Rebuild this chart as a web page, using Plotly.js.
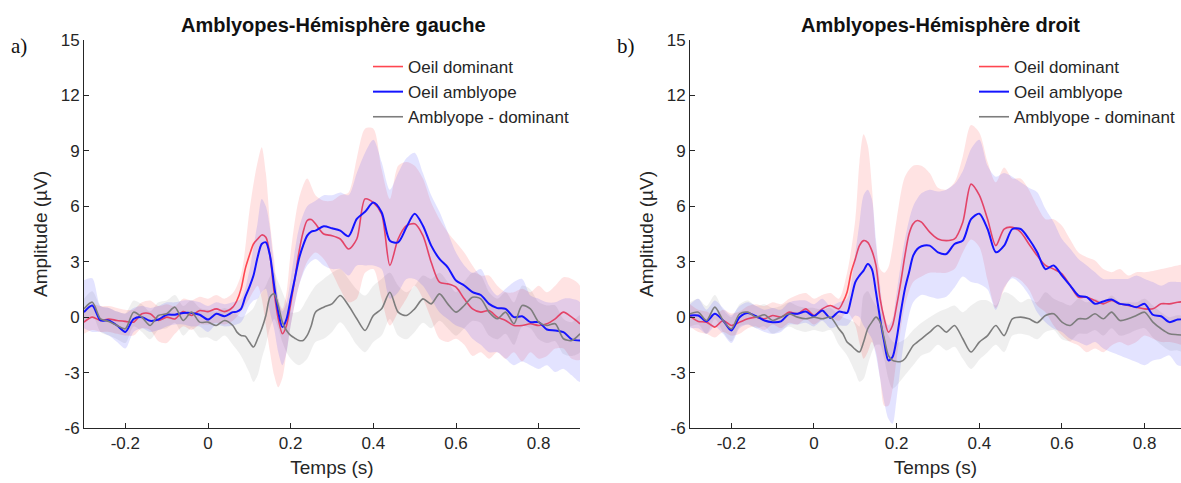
<!DOCTYPE html>
<html><head><meta charset="utf-8">
<script src="https://cdn.plot.ly/plotly-3.0.1.min.js"></script>
<style>html,body{margin:0;padding:0;background:#fff}#chart{width:1181px;height:483px}</style>
</head><body><div id="chart"></div>
<script>
// Time axis (s) for mean curves
const tMean = [-0.30,-0.28,-0.26,-0.24,-0.22,-0.20,-0.18,-0.16,-0.14,-0.12,-0.10,-0.08,-0.06,-0.04,-0.02,0.00,0.02,0.04,0.06,
  0.07,0.08,0.09,0.10,0.11,0.12,0.13,0.14,0.15,0.16,0.17,0.18,0.19,0.20,0.21,0.22,0.23,0.24,0.25,0.26,
  0.28,0.30,0.32,0.34,0.36,0.38,0.40,0.42,0.44,0.46,0.48,0.50,0.52,0.54,0.56,0.58,0.60,0.62,0.64,0.66,0.68,0.70,0.72,0.74,0.76,0.78,0.80,0.82,0.84,0.86,0.88,0.90];
// Time axis (s) for shaded bands
const tBand = [-0.30,-0.28,-0.26,-0.24,-0.22,-0.20,-0.18,-0.16,-0.14,-0.12,-0.10,-0.08,-0.06,-0.04,-0.02,0.00,0.02,0.04,0.06,
  0.08,0.10,0.11,0.12,0.13,0.14,0.15,0.16,0.17,0.18,0.19,0.20,0.22,0.24,0.26,
  0.28,0.30,0.32,0.34,0.36,0.38,0.40,0.42,0.44,0.46,0.48,0.50,0.52,0.54,0.56,0.58,0.60,0.62,0.64,0.66,0.68,0.70,0.72,0.74,0.76,0.78,0.80,0.82,0.84,0.86,0.88,0.90];

// ---- Left hemisphere (a) ----
const domLeft = [-0.27,0.0,-0.18,-0.1,-0.18,-0.23,-0.27,0.18,0.18,-0.18,0.0,-0.1,0.3,0.09,0.36,0.3,0.45,0.3,0.54,
  0.9,1.53,2.6,3.33,3.96,4.23,4.45,4.32,3.33,1.35,-0.09,-0.9,-0.45,0.72,2.07,3.51,4.59,5.23,5.28,5.05,
  4.5,4.41,4.23,3.69,4.23,6.4,6.2,5.59,2.8,4.23,4.95,5.05,4.41,2.97,1.89,1.8,1.62,0.99,0.45,0.27,0.36,0.0,-0.18,-0.45,-0.45,-0.36,-0.45,-0.36,-0.09,0.27,0.0,-0.36];
const amblLeft = [0.27,0.63,-0.18,-0.18,-0.45,-0.8,-0.1,0.0,-0.2,-0.13,0.13,0.13,0.23,0.23,0.13,-0.13,0.18,0.05,0.27,
  0.3,0.45,1.08,1.62,2.25,3.24,3.96,4.05,3.33,1.71,0.27,-0.54,-0.1,1.0,2.07,3.15,3.87,4.41,4.63,4.68,
  4.92,4.81,4.68,4.38,5.32,5.7,6.2,5.68,4.14,4.05,4.86,5.59,4.95,3.87,3.15,2.7,1.98,1.71,1.35,1.2,0.72,0.49,0.45,0.0,0.05,-0.27,-0.27,-0.67,-0.72,-0.81,-1.2,-1.26];
const diffLeft = [0.45,0.81,-0.09,-0.23,-0.45,-0.63,0.27,0.0,-0.45,0.09,0.18,0.54,-0.18,0.27,-0.27,-0.27,-0.45,-0.18,-0.45,
  -0.81,-0.99,-1.03,-1.35,-1.62,-1.17,-0.63,0.09,1.08,1.26,0.63,-0.27,-0.72,-0.99,-1.14,-1.26,-1.26,-0.99,-0.45,0.27,
  0.54,0.72,1.17,0.63,-0.09,-0.72,0.09,0.45,1.35,0.27,0.09,0.45,0.99,0.72,1.26,0.72,0.27,0.63,1.08,0.99,0.27,-0.09,0.27,-0.36,0.63,0.45,-0.27,-0.45,-0.36,-1.17,-1.26,-0.9];
const domLeftHi = [0.5,0.7,0.6,0.6,0.5,0.4,0.4,0.8,0.9,0.6,0.7,0.6,1.0,0.9,1.1,1.0,1.2,1.0,1.3,
  2.3,5.7,7.2,8.4,9.2,7.8,5.1,3.15,1.0,0.45,1.35,3.5,6.4,7.5,6.6,
  6.3,6.3,6.6,6.75,8.6,10.2,10.2,8.0,6.4,8.2,8.4,8.2,7.5,6.2,5.3,4.6,4.05,3.5,2.8,2.25,2.25,1.7,1.35,1.35,1.53,1.35,1.7,1.35,1.7,2.16,2.07,1.7];
const domLeftLo = [-0.9,-0.7,-0.8,-0.8,-0.9,-1.0,-1.0,-0.6,-0.7,-1.3,-1.4,-0.9,-0.5,-0.7,-0.4,-0.4,-0.3,-0.4,-0.2,
  0.3,1.0,1.4,1.7,1.0,-0.45,-1.9,-3.15,-3.8,-3.3,-1.9,-0.45,1.7,3.0,3.5,
  3.15,2.4,1.5,0.8,1.0,2.4,2.6,1.0,-0.45,0.27,1.0,1.7,1.0,-0.1,-1.17,-1.35,-1.17,-1.5,-2.1,-1.9,-2.25,-1.9,-2.25,-1.9,-2.4,-1.9,-2.25,-2.1,-1.7,-1.7,-2.25,-2.3];
const amblLeftHi = [2.0,2.1,0.6,0.5,0.3,0.2,0.5,0.6,0.5,0.6,0.8,0.8,0.9,0.9,0.8,0.6,0.8,0.7,0.8,
  1.0,2.5,3.8,5.1,6.4,6.0,4.8,2.6,1.0,0.3,0.8,2.07,4.8,6.0,6.3,
  6.6,6.6,6.75,6.6,7.8,8.9,9.6,8.4,6.9,7.8,8.6,8.9,7.8,6.6,5.7,4.6,3.5,2.8,2.4,2.6,1.7,1.17,1.53,1.9,2.07,1.17,1.0,0.8,0.8,1.0,1.0,0.8];
const amblLeftLo = [-0.6,-0.8,-0.8,-1.0,-1.35,-1.7,-0.8,-0.6,-0.8,-0.7,-0.5,-0.4,-0.4,-0.5,-0.5,-0.8,-0.4,-0.5,-0.45,
  -0.27,0.63,0.9,1.0,1.35,1.53,0.27,-0.63,-1.9,-2.6,-1.9,-0.45,1.7,2.8,3.15,
  2.8,2.6,2.6,2.25,2.8,2.8,2.8,2.6,1.0,1.35,2.07,2.07,1.7,1.0,0.27,-0.1,-0.45,-0.63,-1.17,-1.5,-1.9,-1.9,-2.25,-2.6,-2.4,-2.6,-2.8,-2.6,-2.97,-2.8,-3.15,-3.5];
const diffLeftHi = [1.0,1.4,0.6,0.5,0.3,0.2,0.9,0.7,0.3,0.8,0.9,1.2,0.6,0.9,0.5,0.4,0.3,0.5,0.3,
  0.0,0.27,0.5,1.0,1.3,1.7,2.2,2.4,1.9,1.35,0.8,0.27,0.3,1.0,1.7,
  2.07,2.4,2.6,2.07,1.5,1.17,1.7,2.07,2.4,1.7,1.35,1.7,2.25,2.07,2.4,1.9,1.35,1.9,2.4,2.25,1.35,1.0,1.35,0.8,1.7,1.5,0.8,0.63,0.63,-0.1,-0.27,0.1];
const diffLeftLo = [-0.3,0.1,-0.8,-1.0,-1.2,-1.4,-0.5,-0.8,-1.2,-0.7,-0.6,-0.3,-1.0,-0.6,-1.1,-1.1,-1.3,-1.0,-1.5,
  -2.1,-3.0,-3.5,-3.15,-2.25,-1.5,-0.6,-0.1,-0.6,-1.35,-1.9,-2.25,-2.6,-2.25,-1.35,
  -1.17,-0.8,-0.27,-0.8,-1.5,-1.9,-1.35,-1.0,-0.1,-1.0,-1.2,-0.8,-0.3,-0.6,-0.2,-0.6,-1.0,-0.6,-0.2,-0.3,-1.0,-1.2,-0.9,-1.5,-0.5,-0.6,-1.2,-1.4,-1.3,-2.0,-2.1,-1.9];

// ---- Right hemisphere (b) ----
const domRight = [0.05,-0.23,-0.27,-0.54,-0.18,-0.45,-0.27,-0.09,0.0,-0.09,0.09,0.0,0.27,0.18,0.45,0.09,0.45,0.63,0.45,
  0.81,1.35,2.43,3.15,3.87,4.14,4.05,3.6,2.8,1.0,-0.09,-0.81,-0.45,0.63,1.9,3.33,4.5,5.05,5.23,5.14,
  4.6,4.23,4.14,4.23,5.14,7.2,6.6,5.3,3.87,4.77,4.86,4.6,3.96,3.33,2.8,2.6,2.34,1.71,1.08,1.08,0.9,0.72,0.9,0.72,0.63,0.54,0.45,0.45,0.72,0.72,0.81,0.85];
const amblRight = [0.09,0.09,-0.23,0.18,-0.18,-0.72,0.0,0.23,0.05,-0.18,-0.27,-0.23,0.18,0.18,0.3,0.05,0.36,-0.05,0.3,
  0.27,0.23,1.0,1.9,2.25,2.52,2.88,2.6,1.35,-0.09,-1.35,-2.34,-2.16,-1.17,0.27,1.53,2.43,3.33,3.69,3.84,
  3.87,3.51,3.42,3.96,4.14,5.3,5.6,4.77,3.51,3.87,4.77,4.77,4.23,3.51,2.6,2.8,2.25,1.71,1.17,1.08,0.72,0.85,0.95,0.72,0.67,0.54,0.72,0.13,0.05,-0.27,-0.13,-0.13];
const diffRight = [0.18,0.27,-0.18,0.54,-0.18,-0.63,0.18,0.27,0.0,0.13,-0.18,0.0,0.18,0.0,-0.09,0.0,-0.09,0.0,-0.63,
  -0.9,-1.35,-1.53,-1.75,-1.89,-1.35,-0.63,-0.27,0.0,-0.27,-1.17,-2.07,-2.34,-2.4,-2.4,-2.25,-1.89,-1.53,-1.35,-1.17,
  -0.81,-0.45,-0.81,-0.45,-1.17,-1.89,-1.35,-1.0,-0.45,-1.0,-0.09,0.0,-0.09,-0.3,0.09,0.18,-0.27,-0.45,-0.09,-0.09,0.18,-0.09,0.27,-0.18,-0.09,0.09,0.27,-0.27,-0.63,-0.9,-0.95,-1.0];
const domRightHi = [0.7,0.4,0.3,0.1,0.4,0.2,0.3,0.6,0.7,0.6,0.8,0.7,1.0,1.2,1.3,1.0,1.2,1.3,1.0,
  2.4,5.3,8.4,9.9,9.3,7.1,3.9,2.6,2.4,2.7,3.8,5.3,7.6,8.2,8.2,
  7.8,7.0,6.9,7.3,8.7,10.4,10.0,8.4,7.3,8.1,7.5,7.5,6.9,6.0,5.3,5.3,4.95,4.2,3.5,3.24,3.06,2.6,2.43,2.6,2.25,2.43,2.43,2.5,2.6,2.7,2.8,2.8];
const domRightLo = [-0.5,-0.8,-0.9,-1.1,-0.8,-1.0,-0.9,-0.6,-0.5,-0.7,-0.4,-0.6,-0.3,-0.4,-0.1,-0.4,-0.1,0.0,-0.2,
  0.27,-0.45,-1.4,-2.25,-1.9,-1.35,-1.9,-3.3,-4.8,-4.8,-3.9,-2.25,0.63,1.9,2.2,
  2.4,2.4,2.4,2.6,3.5,4.2,3.8,2.0,0.5,1.5,2.2,2.0,1.5,0.63,0.27,-0.45,-1.0,-1.35,-1.53,-1.9,-1.7,-1.9,-1.53,-1.35,-1.53,-1.35,-1.0,-1.17,-1.35,-1.35,-1.44,-1.5];
const amblRightHi = [0.7,1.0,0.4,0.9,0.5,0.1,0.6,0.8,0.6,0.4,0.5,0.4,0.8,0.9,0.9,0.7,1.0,0.6,0.8,
  1.0,3.5,5.1,6.6,6.9,6.4,4.2,1.7,0.09,-0.45,-0.09,1.35,4.2,6.0,6.7,
  6.9,6.8,6.9,7.2,7.9,9.1,9.6,8.2,7.6,7.8,7.6,7.3,7.0,6.76,5.86,5.14,4.23,3.7,3.15,2.8,2.43,2.07,2.07,2.07,2.07,2.25,2.07,1.9,1.7,1.9,1.9,1.8];
const amblRightLo = [-0.6,-0.6,-0.9,-0.5,-0.9,-1.4,-0.6,-0.4,-0.6,-0.8,-0.9,-0.8,-0.4,-0.4,-0.3,-0.5,-0.2,-0.6,-0.45,
  -0.45,0.09,0.0,-0.45,-0.8,-1.17,-2.07,-3.33,-4.6,-5.5,-5.77,-4.4,-1.0,0.8,1.2,
  1.1,1.0,1.1,1.6,2.2,1.9,1.8,1.5,0.4,1.6,2.1,1.8,1.2,0.27,-0.27,-0.63,-0.8,-1.17,-1.35,-1.53,-1.35,-1.7,-1.9,-2.07,-2.25,-2.43,-2.6,-2.34,-2.25,-2.07,-2.6,-2.6];
const diffRightHi = [0.8,1.0,0.6,1.2,0.4,0.0,0.7,0.9,0.6,0.7,0.5,0.6,0.8,0.6,0.5,0.5,0.4,0.5,0.1,
  -0.1,-0.3,-0.5,1.2,1.4,1.0,0.63,0.4,-0.3,-1.0,-1.3,-1.4,-1.2,-0.7,-0.3,
  0.0,0.27,0.45,0.63,0.27,0.63,0.9,0.9,0.63,1.35,1.17,0.8,1.0,0.8,1.35,1.0,0.8,0.63,1.0,0.8,1.0,0.8,1.17,0.8,0.8,0.8,1.0,0.63,0.27,0.0,0.1,0.0];
const diffRightLo = [-0.5,-0.4,-0.9,-0.1,-0.8,-1.3,-0.5,-0.4,-0.6,-0.5,-0.9,-0.7,-0.5,-0.7,-0.8,-0.7,-0.8,-0.7,-1.5,
  -2.07,-3.0,-3.5,-3.33,-2.6,-1.9,-1.5,-1.5,-2.25,-3.33,-3.87,-3.7,-3.15,-2.6,-2.07,
  -1.9,-1.5,-1.8,-1.6,-2.25,-2.8,-2.3,-1.9,-1.5,-1.9,-1.0,-0.9,-1.0,-1.2,-0.8,-0.7,-1.2,-1.3,-0.9,-0.9,-0.7,-1.0,-0.6,-1.0,-0.9,-0.7,-0.6,-1.1,-1.5,-1.8,-1.8,-1.9];

// Labels
const seriesNames = ['Oeil dominant', 'Oeil amblyope', 'Amblyope - dominant'];
const panelTitles = ['Amblyopes-Hémisphère gauche', 'Amblyopes-Hémisphère droit'];
const panelLetters = ['a)', 'b)'];
const xTickVals = [-0.2, 0, 0.2, 0.4, 0.6, 0.8];
const xTickText = ['-0.2', '0', '0.2', '0.4', '0.6', '0.8'];
const yTickVals = [-6, -3, 0, 3, 6, 9, 12, 15];
const yTickText = ['-6', '-3', '0', '3', '6', '9', '12', '15'];

const lineColors = ['rgb(255,70,80)', 'rgb(20,20,255)', 'rgb(125,125,125)'];
const fillColors = ['rgba(255,0,0,0.11)', 'rgba(60,60,255,0.14)', 'rgba(120,120,120,0.12)'];
const FONT = 'Liberation Sans, Arial, Helvetica, sans-serif';

function band(hi, lo, color, xa, ya) {
  return {
    x: tBand.concat(tBand.slice().reverse()),
    y: hi.concat(lo.slice().reverse()),
    type: 'scatter', mode: 'lines', fill: 'toself', fillcolor: color,
    line: {width: 0, color: 'rgba(0,0,0,0)', shape: 'spline', smoothing: 0.8},
    hoverinfo: 'skip', showlegend: false, xaxis: xa, yaxis: ya
  };
}
function meanLine(y, i, xa, ya, leg) {
  return {
    x: tMean, y: y, type: 'scatter', mode: 'lines', name: seriesNames[i],
    line: {color: lineColors[i], width: i === 1 ? 2 : 1.6, shape: 'spline', smoothing: 0.8},
    xaxis: xa, yaxis: ya, legend: leg
  };
}

const panels = [
  {xa: 'x', ya: 'y', leg: 'legend', d: domLeft, a: amblLeft, f: diffLeft,
   dh: domLeftHi, dl: domLeftLo, ah: amblLeftHi, al: amblLeftLo, fh: diffLeftHi, fl: diffLeftLo},
  {xa: 'x2', ya: 'y2', leg: 'legend2', d: domRight, a: amblRight, f: diffRight,
   dh: domRightHi, dl: domRightLo, ah: amblRightHi, al: amblRightLo, fh: diffRightHi, fl: diffRightLo}
];

const data = [];
panels.forEach(p => {
  data.push(band(p.fh, p.fl, fillColors[2], p.xa, p.ya));
  data.push(band(p.dh, p.dl, fillColors[0], p.xa, p.ya));
  data.push(meanLine(p.d, 0, p.xa, p.ya, p.leg));
  data.push(band(p.ah, p.al, fillColors[1], p.xa, p.ya));
  data.push(meanLine(p.a, 1, p.xa, p.ya, p.leg));
  data.push(meanLine(p.f, 2, p.xa, p.ya, p.leg));
});

const W = 1181, H = 483;
const axisFont = {family: FONT, size: 17, color: '#262626'};
const axTitleFont = {family: FONT, size: 19, color: '#262626'};
function xAxis(domain, range) {
  return {
    domain: domain, range: range, showgrid: false, zeroline: false, showline: true,
    linecolor: '#262626', linewidth: 1, ticks: 'inside', ticklen: 5, tickcolor: '#262626',
    tickvals: xTickVals, ticktext: xTickText, tickfont: axisFont, fixedrange: true,
    title: {text: 'Temps (s)', font: axTitleFont, standoff: 8}
  };
}
function yAxis(anchor) {
  return {
    domain: [(H - 428) / H, (H - 40) / H], range: [-6, 15], anchor: anchor,
    showgrid: false, zeroline: false, showline: true,
    linecolor: '#262626', linewidth: 1, ticks: 'inside', ticklen: 5, tickcolor: '#262626',
    tickvals: yTickVals, ticktext: yTickText, tickfont: axisFont, fixedrange: true,
    title: {text: 'Amplitude (µV)', font: axTitleFont, standoff: 8}
  };
}
const legendCommon = {
  xanchor: 'left', yanchor: 'top', bgcolor: 'rgba(0,0,0,0)', borderwidth: 0,
  font: {family: FONT, size: 17, color: '#262626'},
  tracegroupgap: 0, traceorder: 'normal'
};

const layout = {
  width: W, height: H, margin: {l: 0, r: 0, t: 0, b: 0},
  paper_bgcolor: '#fff', plot_bgcolor: '#fff', showlegend: true,
  xaxis: Object.assign(xAxis([84 / W, 580 / W], [-0.3, 0.9]), {anchor: 'y'}),
  yaxis: yAxis('x'),
  xaxis2: Object.assign(xAxis([690 / W, 1], [-0.3, 0.888]), {anchor: 'y2'}),
  yaxis2: yAxis('x2'),
  legend: Object.assign({x: 368 / W, y: (H - 49) / H}, legendCommon),
  legend2: Object.assign({x: 974 / W, y: (H - 49) / H}, legendCommon),
  annotations: [
    {text: '<b>' + panelTitles[0] + '</b>', x: 333 / W, y: (H - 25) / H, xref: 'paper', yref: 'paper',
     xanchor: 'center', yanchor: 'middle', showarrow: false,
     font: {family: FONT, size: 20, color: '#111'}},
    {text: '<b>' + panelTitles[1] + '</b>', x: 940 / W, y: (H - 25) / H, xref: 'paper', yref: 'paper',
     xanchor: 'center', yanchor: 'middle', showarrow: false,
     font: {family: FONT, size: 20, color: '#111'}},
    {text: panelLetters[0], x: 9 / W, y: (H - 46) / H, xref: 'paper', yref: 'paper',
     xanchor: 'left', yanchor: 'middle', showarrow: false,
     font: {family: 'Liberation Serif, Times New Roman, serif', size: 21, color: '#111'}},
    {text: panelLetters[1], x: 615 / W, y: (H - 46) / H, xref: 'paper', yref: 'paper',
     xanchor: 'left', yanchor: 'middle', showarrow: false,
     font: {family: 'Liberation Serif, Times New Roman, serif', size: 21, color: '#111'}}
  ]
};

Plotly.newPlot('chart', data, layout, {staticPlot: true, displayModeBar: false});
</script>
</body></html>
